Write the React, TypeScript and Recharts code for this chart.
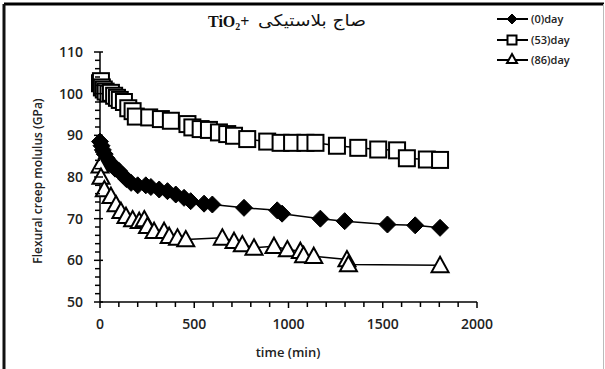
import React from 'react'
import { LineChart, Line, XAxis, YAxis } from 'recharts'

// (0)day - filled diamonds
const day0Time = [0, 8, 15, 25, 35, 50, 65, 80, 100, 120, 140, 165, 200, 243, 270, 314, 358, 402, 446, 481, 552, 596, 764, 940, 966, 1169, 1298, 1525, 1672, 1804]
const day0Modulus = [88.5, 87.5, 86.5, 85.5, 84.5, 83.5, 83, 82, 81.5, 80.5, 79.5, 78.6, 78, 78, 77.6, 77, 76.6, 75.8, 75, 74.2, 73.6, 73.4, 72.6, 72, 71.2, 70, 69.4, 68.6, 68.4, 67.8]

// (53)day - open squares
const day53Time = [0, 5, 10, 20, 30, 45, 58, 75, 90, 105, 127, 150, 173, 190, 261, 323, 376, 464, 490, 534, 578, 631, 675, 711, 781, 887, 958, 1019, 1090, 1143, 1257, 1370, 1476, 1576, 1628, 1734, 1804]
const day53Modulus = [102.5, 103, 101.5, 101, 100.5, 100, 100.2, 99.5, 99, 98.5, 98, 96.5, 95.8, 94.5, 94.3, 93.9, 93.5, 92.7, 91.9, 91.5, 91.3, 90.7, 90.3, 89.9, 89.1, 88.5, 88.2, 88.2, 88.2, 88.2, 87.5, 87, 86.6, 86.4, 84.5, 84.2, 84.1]

// (86)day - open triangles
const day86Time = [0, 5, 23, 58, 85, 111, 138, 173, 208, 235, 252, 287, 340, 367, 411, 455, 649, 711, 755, 817, 923, 994, 1063, 1080, 1134, 1310, 1318, 1804]
const day86Modulus = [82.7, 80, 77, 75.4, 73.4, 71.8, 70.6, 69.8, 69.4, 69.8, 68.2, 67, 67, 65.8, 65.4, 65, 65.4, 64.6, 63.8, 63, 63.4, 62.6, 62.2, 61.2, 61, 60.2, 59, 58.8]

const xLabels = [0, 500, 1000, 1500, 2000]
const yLabels = [50, 60, 70, 80, 90, 100, 110]
const xTicks = Array.from({ length: 21 }, (_, i) => i * 100)
const yTicks = Array.from({ length: 31 }, (_, i) => 50 + i * 2)

const seriesNames = ['(0)day', '(53)day', '(86)day']

const toRows = (t: number[], v: number[]) => t.map((x, i) => ({ t: x, v: v[i] }))

const tickFont = { fontFamily: 'Open Sans', fontSize: 14, fontWeight: 600, fill: '#222' }

// recharts passes its own `r` to dot renderers, so size is a separate prop
function Diamond({ cx, cy, size = 8.5 }: any) {
  if (cx == null || cy == null) return null
  return <polygon points={`${cx},${cy - size} ${cx + size},${cy} ${cx},${cy + size} ${cx - size},${cy}`} fill="#000" stroke="#000" strokeWidth={1} />
}

function Square({ cx, cy, size = 8 }: any) {
  if (cx == null || cy == null) return null
  return <rect x={cx - size} y={cy - size} width={size * 2} height={size * 2} fill="#fff" stroke="#000" strokeWidth={2} />
}

function Triangle({ cx, cy, size = 8.5 }: any) {
  if (cx == null || cy == null) return null
  return <polygon points={`${cx},${cy - size} ${cx + size},${cy + size * 0.8} ${cx - size},${cy + size * 0.8}`} fill="#fff" stroke="#000" strokeWidth={2} />
}

function XTick({ x, y, payload }: any) {
  const major = xLabels.includes(payload.value)
  return (
    <g>
      <line x1={x} x2={x} y1={y} y2={y + (major ? 6 : 5)} stroke="#000" strokeWidth={1.5} />
      {major && (
        <text x={x} y={y + 27} textAnchor="middle" style={tickFont}>{payload.value}</text>
      )}
    </g>
  )
}

function YTick({ x, y, payload }: any) {
  const major = yLabels.includes(payload.value)
  return (
    <g>
      <line x1={x - (major ? 6 : 5)} x2={x + (major ? 3 : 0)} y1={y} y2={y} stroke="#000" strokeWidth={1.5} />
      {major && (
        <text x={x - 17} y={y + 5} textAnchor="end" style={tickFont}>{payload.value}</text>
      )}
    </g>
  )
}

export default function App() {
  const legendY = [19, 40, 60]
  const legendShapes = [
    (cy: number) => <Diamond cx={512} cy={cy} size={5} />,
    (cy: number) => <Square cx={512} cy={cy} size={4.5} />,
    (cy: number) => <Triangle cx={512} cy={cy - 1} size={5} />,
  ]
  return (
    <div style={{ position: 'absolute', left: 0, top: 0, width: 605, height: 369, background: '#fff' }}>
      <LineChart
        width={605}
        height={369}
        margin={{ top: 52, right: 128, bottom: 37, left: 60 }}
      >
        <XAxis
          type="number"
          dataKey="t"
          domain={[0, 2000]}
          ticks={xTicks}
          interval={0}
          height={30}
          tickLine={false}
          tickSize={0}
          tickMargin={0}
          axisLine={{ stroke: '#000', strokeWidth: 1.5 }}
          tick={<XTick />}
        />
        <YAxis
          type="number"
          domain={[50, 110]}
          ticks={yTicks}
          interval={0}
          width={40}
          tickLine={false}
          tickSize={0}
          tickMargin={0}
          axisLine={{ stroke: '#000', strokeWidth: 1.5 }}
          tick={<YTick />}
        />
        <Line data={toRows(day0Time, day0Modulus)} dataKey="v" type="linear" stroke="#000" strokeWidth={1.5} dot={<Diamond />} isAnimationActive={false} />
        <Line data={toRows(day53Time, day53Modulus)} dataKey="v" type="linear" stroke="#000" strokeWidth={1.5} dot={<Square />} isAnimationActive={false} />
        <Line data={toRows(day86Time, day86Modulus)} dataKey="v" type="linear" stroke="#000" strokeWidth={1.5} dot={<Triangle />} isAnimationActive={false} />
      </LineChart>

      <svg width={605} height={369} style={{ position: 'absolute', left: 0, top: 0, pointerEvents: 'none' }}>
        {/* frame */}
        <line x1={4} y1={4} x2={604} y2={4} stroke="#000" strokeWidth={3} />
        <line x1={4} y1={4} x2={4} y2={369} stroke="#111" strokeWidth={3} />
        <line x1={603.5} y1={4} x2={603.5} y2={369} stroke="#bbb" strokeWidth={1} />

        {/* title */}
        <text x={208} y={27} style={{ fontFamily: 'Liberation Serif', fontSize: 16, fontWeight: 700, fill: '#111' }}>
          TiO<tspan dy={3} fontSize={10}>2</tspan><tspan dy={-3}>+</tspan>
        </text>
        <text x={366} y={26} textAnchor="end" style={{ fontFamily: 'DejaVu Sans', fontSize: 16, fill: '#111' }} textLength={108} lengthAdjust="spacingAndGlyphs">صاج بلاستيكى</text>

        {/* legend */}
        {seriesNames.map((name, i) => (
          <g key={name}>
            <line x1={497} x2={528} y1={legendY[i]} y2={legendY[i]} stroke="#000" strokeWidth={2} />
            {legendShapes[i](legendY[i])}
            <text x={531} y={legendY[i] + 4} style={{ fontFamily: 'Open Sans', fontSize: 11, fontWeight: 600, fill: '#222' }}>{name}</text>
          </g>
        ))}

        {/* axis titles */}
        <text
          x={0}
          y={0}
          transform="translate(42,181) rotate(-90)"
          textAnchor="middle"
          style={{ fontFamily: 'Open Sans', fontSize: 12, fontWeight: 600, fill: '#222' }}
        >
          Flexural creep molulus (GPa)
        </text>
        <text x={288} y={357} textAnchor="middle" style={{ fontFamily: 'Open Sans', fontSize: 13, fontWeight: 600, fill: '#222' }}>
          time (min)
        </text>
      </svg>
    </div>
  )
}
